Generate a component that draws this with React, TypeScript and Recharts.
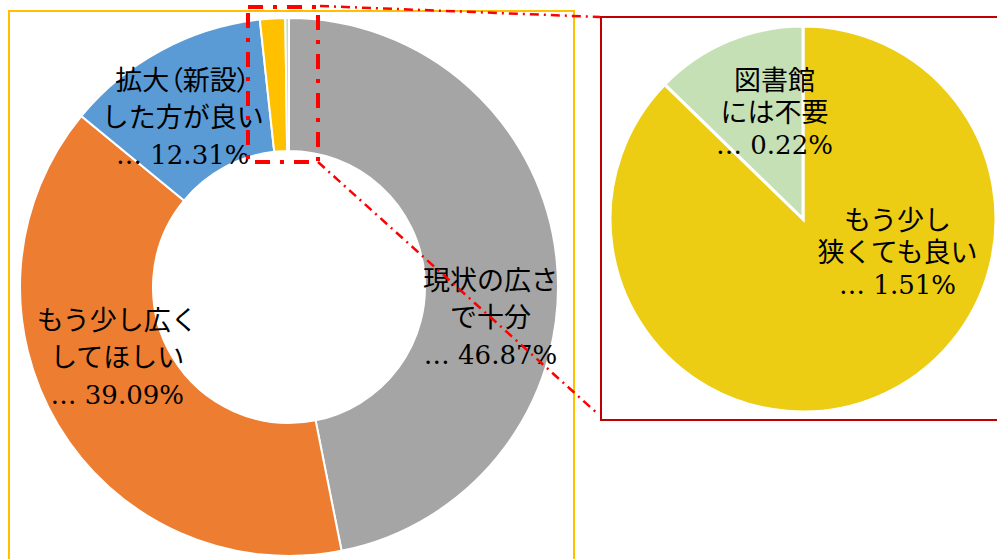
import React from 'react';
import { PieChart, Pie, Cell } from 'recharts';

// 図書館の広さについての回答
const categories = [
  '現状の広さで十分',
  'もう少し広くしてほしい',
  '拡大（新設）した方が良い',
  'もう少し狭くても良い',
  '図書館には不要',
];
const shares = [46.87, 39.09, 12.31, 1.51, 0.22];
const donutColors = ['#A5A5A5', '#ED7D31', '#5B9BD5', '#FFC000', '#C5E0B4'];

// ラベルの改行位置
const labelLines = [
  ['現状の広さ', 'で十分'],
  ['もう少し広く', 'してほしい'],
  ['拡大（新設）', 'した方が良い'],
  ['もう少し', '狭くても良い'],
  ['図書館', 'には不要'],
];

// 拡大部分（小さい2項目）
const detailIdx = [3, 4];
const detailColors = ['#ECCD14', '#C5E0B4'];

const donutData = categories.map((name, i) => ({ name, value: shares[i], idx: i }));
const detailData = detailIdx.map((i) => ({ name: categories[i], value: shares[i], idx: i }));

const RAD = Math.PI / 180;
const JP_FONT = '"Liberation Serif", "Noto Sans CJK JP", serif';
const NUM_FONT = '"DejaVu Serif", "Liberation Serif", serif';

// label nudges, tuned by eye
const donutNudge: Record<number, [number, number]> = {
  0: [0, 51],
  1: [2, -33],
  2: [-10, 9],
};
const detailNudge: Record<number, [number, number]> = {
  3: [57, -55],
  4: [9, -17],
};

const makeLabel =
  (nudge: Record<number, [number, number]>, radiusFactor: number, spacing: number) =>
  (props: any) => {
    const { cx, cy, midAngle, innerRadius, outerRadius, payload } = props;
    const idx = payload?.idx ?? props.idx;
    const off = nudge[idx];
    if (!off) return null;
    const r = innerRadius + (outerRadius - innerRadius) * radiusFactor;
    const x = cx + r * Math.cos(-midAngle * RAD) + off[0];
    const y = cy + r * Math.sin(-midAngle * RAD) + off[1];
    const lines = [...labelLines[idx], `… ${shares[idx].toFixed(2)}%`];
    return (
      <g>
        {lines.map((t, i) => (
          <text
            key={i}
            x={x}
            y={y + (i - 1) * spacing}
            textAnchor="middle"
            dominantBaseline="central"
            fill="#000"
            fontSize={i === 2 ? 26 : 27}
            fontFamily={i === 2 ? NUM_FONT : JP_FONT}
            style={t.includes('（') ? { fontFeatureSettings: '"palt"' } : undefined}
          >
            {t}
          </text>
        ))}
      </g>
    );
  };

export default function App() {
  return (
    <div style={{ position: 'relative', width: 997, height: 559, overflow: 'hidden', background: '#fff' }}>
      <style>{`body{margin:0}`}</style>
      <div
        style={{
          position: 'absolute',
          left: 8,
          top: 10,
          width: 563,
          height: 600,
          border: '2px solid #FFC000',
        }}
      />
      <div
        style={{
          position: 'absolute',
          left: 600,
          top: 16,
          width: 420,
          height: 401,
          border: '2px solid #C00000',
        }}
      />
      <div style={{ position: 'absolute', left: 0, top: 0 }}>
        <PieChart width={997} height={559} margin={{ top: 0, right: 0, bottom: 0, left: 0 }}>
          <Pie
            data={donutData}
            dataKey="value"
            cx={289}
            cy={287}
            innerRadius={136}
            outerRadius={269}
            startAngle={90}
            endAngle={-270}
            stroke="#fff"
            strokeWidth={2}
            labelLine={false}
            label={makeLabel(donutNudge, 0.5, 37)}
            isAnimationActive={false}
          >
            {donutData.map((d, i) => (
              <Cell key={d.name} fill={donutColors[i]} />
            ))}
          </Pie>
          <Pie
            data={detailData}
            dataKey="value"
            cx={803}
            cy={219}
            innerRadius={0}
            outerRadius={193}
            startAngle={90}
            endAngle={-270}
            stroke="#fff"
            strokeWidth={3}
            labelLine={false}
            label={makeLabel(detailNudge, 0.5, 32)}
            isAnimationActive={false}
          >
            {detailData.map((d, i) => (
              <Cell key={d.name} fill={detailColors[i]} />
            ))}
          </Pie>
        </PieChart>
      </div>
      <svg
        width={997}
        height={559}
        style={{ position: 'absolute', left: 0, top: 0, pointerEvents: 'none' }}
      >
        <rect x={248} y={7} width={70} height={155} fill="none" stroke="#FF0000" strokeWidth={4} strokeDasharray="15 10 4 10" />
        <line x1={320} y1={6} x2={600} y2={17} stroke="#FF0000" strokeWidth={2.5} strokeDasharray="9 5 2 5" />
        <line x1={318} y1={162} x2={598} y2={414} stroke="#FF0000" strokeWidth={2.5} strokeDasharray="9 5 2 5" />
      </svg>
    </div>
  );
}
